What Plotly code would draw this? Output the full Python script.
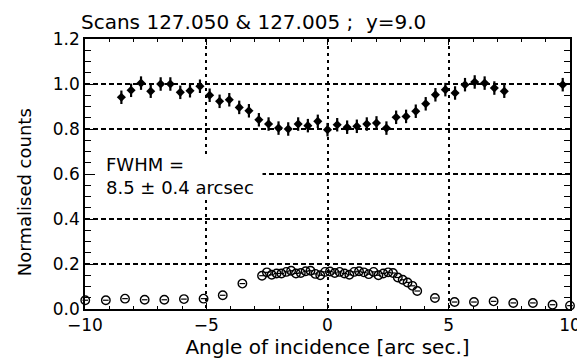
import plotly.graph_objects as go

# Upper scan: normalised counts with error bars
top_x = [-8.50, -8.10, -7.69, -7.29, -6.88, -6.48, -6.07, -5.67, -5.26, -4.86,
         -4.45, -4.05, -3.64, -3.24, -2.83, -2.43, -2.02, -1.62, -1.21, -0.81,
         -0.40, 0.00, 0.40, 0.81, 1.21, 1.62, 2.02, 2.43, 2.83, 3.24,
         3.64, 4.05, 4.45, 4.86, 5.26, 5.67, 6.07, 6.48, 6.88, 7.29, 9.70]
top_y = [0.941, 0.972, 1.004, 0.968, 1.000, 1.000, 0.963, 0.970, 0.990, 0.950,
         0.923, 0.930, 0.896, 0.881, 0.841, 0.822, 0.804, 0.800, 0.822, 0.815,
         0.834, 0.797, 0.819, 0.808, 0.812, 0.822, 0.827, 0.804, 0.852, 0.856,
         0.879, 0.912, 0.952, 0.975, 0.960, 0.997, 1.009, 1.004, 0.982, 0.968, 0.997]
top_err = [0.03] * len(top_x)

# Lower scan: open circles
low_x = [-9.99, -9.14, -8.35, -7.54, -6.73, -5.92, -5.11, -4.32, -3.51,
         -2.7, -2.5, -2.3, -2.1, -1.9, -1.7, -1.5, -1.3, -1.1, -0.9, -0.7,
         -0.5, -0.3, -0.1, 0.1, 0.3, 0.5, 0.7, 0.9, 1.1, 1.3, 1.5, 1.7, 1.9,
         2.1, 2.3, 2.5, 2.7, 2.9, 3.1, 3.3, 3.5, 3.7,
         4.43, 5.24, 6.04, 6.85, 7.66, 8.47, 9.28, 10.0]
low_y = [0.039, 0.039, 0.046, 0.041, 0.041, 0.044, 0.046, 0.061, 0.113,
         0.148, 0.163, 0.152, 0.158, 0.158, 0.165, 0.170, 0.158, 0.160, 0.168, 0.170,
         0.156, 0.150, 0.165, 0.167, 0.160, 0.165, 0.158, 0.152, 0.165, 0.168, 0.163, 0.155, 0.165,
         0.150, 0.158, 0.163, 0.160, 0.140, 0.130, 0.118, 0.103, 0.080,
         0.049, 0.031, 0.031, 0.034, 0.027, 0.027, 0.019, 0.015]

title_text = "Scans 127.050 & 127.005 ;  y=9.0"
x_title = "Angle of incidence [arc sec.]"
y_title = "Normalised counts"
fwhm_text = "FWHM =<br>8.5 ± 0.4 arcsec"

FONT = "DejaVu Sans"
W, H = 585, 362
ML, MR, MT, MB = 77, 14, 31, 61
pw = W - ML - MR
ph = H - MT - MB


def px_to_paper(px, py):
    return (px - ML) / pw, (H - MB - py) / ph


fig = go.Figure()
fig.add_trace(go.Scatter(
    x=top_x, y=top_y, mode="markers",
    marker=dict(symbol="diamond", size=7, color="black"),
    error_y=dict(type="data", array=top_err, visible=True, color="black", thickness=2.2, width=0),
    showlegend=False, cliponaxis=False))
fig.add_trace(go.Scatter(
    x=low_x, y=low_y, mode="markers",
    marker=dict(symbol="circle-open", size=8.5, color="black", line=dict(width=1.4, color="black")),
    showlegend=False, cliponaxis=False))
fig.add_trace(go.Scatter(
    x=low_x, y=low_y, mode="markers",
    marker=dict(symbol="line-ew", size=4, color="black", line=dict(width=1.2, color="black")),
    showlegend=False, cliponaxis=False))

# white box behind the FWHM label
fig.add_shape(type="rect", xref="x", yref="y", x0=-10, x1=-2.68, y0=0.493, y1=0.689,
              fillcolor="white", line=dict(width=0), layer="between")
fig.add_annotation(x=-9.2, y=0.592, xref="x", yref="y", text=fwhm_text, showarrow=False,
                   xanchor="left", yanchor="middle", align="left",
                   font=dict(family=FONT, size=18, color="black"))

# y-axis title
yx, yy = px_to_paper(15, 184)
fig.add_annotation(x=yx, y=yy, xref="paper", yref="paper", text=y_title, showarrow=False,
                   textangle=-90, xanchor="center", yanchor="middle",
                   font=dict(family=FONT, size=18, color="black"))

# chart title
tx, ty = px_to_paper(71, 14)
fig.add_annotation(x=tx, y=ty, xref="paper", yref="paper", text=title_text, showarrow=False,
                   xanchor="left", yanchor="middle", align="left",
                   font=dict(family=FONT, size=20, color="black"))

fig.update_layout(
    width=W, height=H,
    margin=dict(l=ML, r=MR, t=MT, b=MB),
    paper_bgcolor="white", plot_bgcolor="white",
    font=dict(family=FONT, size=17, color="black"),
)

fig.update_xaxes(
    range=[-10, 10], dtick=5, tick0=0,
    showgrid=True, gridcolor="black", gridwidth=1.6, griddash="3px,4px",
    zeroline=False, showline=True, linecolor="black", linewidth=1.5, mirror="ticks",
    ticks="inside", ticklen=6, tickwidth=1.3, tickcolor="black",
    minor=dict(dtick=1, ticks="inside", ticklen=3, tickwidth=1.2, tickcolor="black", showgrid=False),
    title=dict(text=x_title, font=dict(family=FONT, size=20), standoff=4),
    tickfont=dict(family=FONT, size=17),
)
fig.update_yaxes(
    range=[0, 1.2], dtick=0.2, tick0=0, tickformat=".1f",
    showgrid=True, gridcolor="black", gridwidth=1.6, griddash="5px,3px",
    zeroline=False, showline=True, linecolor="black", linewidth=1.5, mirror="ticks",
    ticks="inside", ticklen=10, tickwidth=1.3, tickcolor="black",
    minor=dict(dtick=0.05, ticks="inside", ticklen=6, tickwidth=1.2, tickcolor="black", showgrid=False),
    tickfont=dict(family=FONT, size=17),
)

fig.write_html("out.html")
